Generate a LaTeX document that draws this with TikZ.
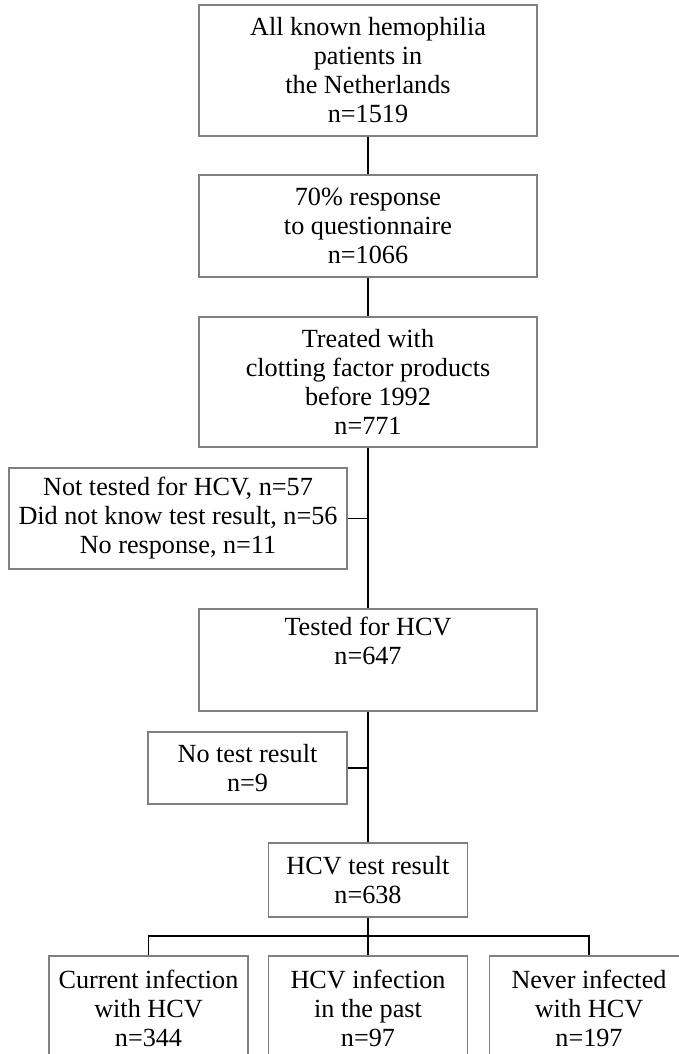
\documentclass[tikz,border=0pt]{standalone}
\usepackage{fontspec}
\setmainfont{Liberation Serif}
\definecolor{boxgray}{RGB}{128,128,128}
\begin{document}
\begin{tikzpicture}[x=1pt,y=-1pt,
  box/.style={draw=boxgray, line width=1.2pt, align=center, inner sep=0pt,
    font=\fontsize{26.2}{29}\selectfont},
  conn/.style={draw=black, line width=1.4pt}]
\clip (0,0) rectangle (679,1054);
\node[box, minimum width=338pt, minimum height=131pt] (b1) at (368,70.5)
  {All known hemophilia\\patients in\\the Netherlands\\n=1519};
\node[box, minimum width=338pt, minimum height=102pt] (b2) at (368,226)
  {70\% response\\to questionnaire\\n=1066};
\node[box, minimum width=338pt, minimum height=130pt] (b3) at (368,382)
  {Treated with\\clotting factor products\\before 1992\\n=771};
\node[box, minimum width=338pt, minimum height=101pt] (s1) at (178,518.5)
  {Not tested for HCV, n=57\\Did not know test result, n=56\\No response, n=11};
\node[box, minimum width=338pt, minimum height=102pt] (t) at (368,660)
  {Tested for HCV\\n=647\\\strut};
\node[box, minimum width=199pt, minimum height=72pt] (s2) at (247.5,768)
  {No test result\\n=9};
\node[box, minimum width=199pt, minimum height=74pt] (r) at (368,880)
  {HCV test result\\n=638};
\node[box, minimum width=199pt, minimum height=104pt] (c1) at (148.5,1008)
  {Current infection\\with HCV\\n=344};
\node[box, minimum width=199pt, minimum height=104pt] (c2) at (368,1008)
  {HCV infection\\in the past\\n=97};
\node[box, minimum width=199pt, minimum height=104pt] (c3) at (589,1008)
  {Never infected\\with HCV\\n=197};
\coordinate (bk) at (368,936);
\draw[conn] (b1.south) -- (b2.north);
\draw[conn] (b2.south) -- (b3.north);
\draw[conn] (b3.south) -- (t.north);
\draw[conn] (s1.east) -- (s1.east -| b3.south);
\draw[conn] (t.south) -- (r.north);
\draw[conn] (s2.east) -- (s2.east -| t.south);
\draw[conn] (r.south) -- (bk);
\draw[conn] (c1.north) -- (c1.north |- bk) -- (c3.north |- bk) -- (c3.north);
\draw[conn] (bk) -- (c2.north);
\end{tikzpicture}
\end{document}
